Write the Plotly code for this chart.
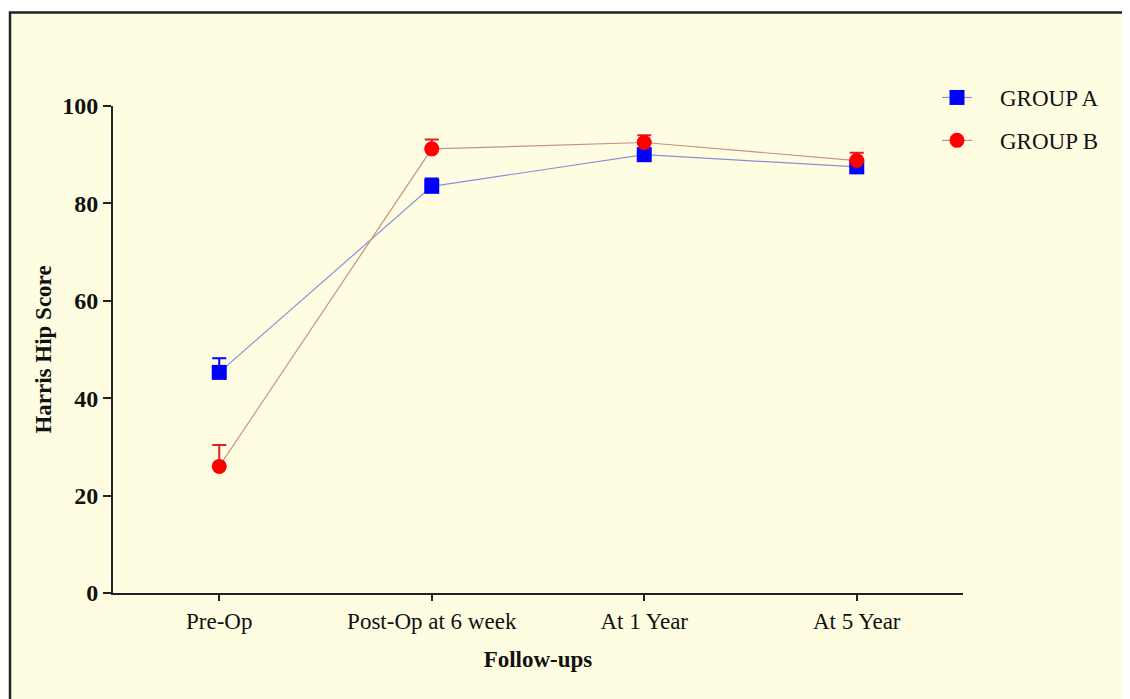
import plotly.graph_objects as go

categories = ["Pre-Op", "Post-Op at 6 week", "At 1 Year", "At 5 Year"]
group_a = [45.3, 83.5, 90.0, 87.5]
group_a_err = [2.9, 1.6, 1.3, 1.0]
group_b = [26.0, 91.2, 92.5, 88.8]
group_b_err = [4.4, 1.9, 1.5, 1.6]
y_ticks = [0, 20, 40, 60, 80, 100]

W, H = 1130, 699
OFF = 8  # page body margin
L, T = 113 - OFF, 106 - OFF
PW, PH = 850, 487
R = W - L - PW
B = H - T - PH
BG = "#FEFDE1"
FONT = "Liberation Serif, Times New Roman, serif"
FS = 23

fig = go.Figure()
fig.add_trace(go.Scatter(
    x=categories, y=group_a, name="\u2002\u2002GROUP A", mode="lines+markers",
    line=dict(color="#8E8ED6", width=1.2),
    marker=dict(symbol="square", size=15, color="#0000FF"),
    error_y=dict(type="data", array=group_a_err, arrayminus=[0]*4, symmetric=False,
                 color="#0000FF", thickness=2, width=7),
    legendgroup="a",
))
fig.add_trace(go.Scatter(
    x=categories, y=group_b, name="\u2002\u2002GROUP B", mode="lines+markers",
    line=dict(color="#C99080", width=1.2),
    marker=dict(symbol="circle", size=15, color="#FF0000"),
    error_y=dict(type="data", array=group_b_err, arrayminus=[0]*4, symmetric=False,
                 color="#E02020", thickness=2, width=7),
    legendgroup="b",
))

def px_x(p):
    return (p - OFF - L) / PW
def px_y(p):
    return (H - B - (p - OFF)) / PH

fig.add_shape(type="rect", xref="paper", yref="paper",
              x0=px_x(10), x1=px_x(1150), y0=px_y(12.5), y1=px_y(720),
              fillcolor=BG, line=dict(color="#222222", width=2.5), layer="below")

fig.update_layout(
    width=W, height=H,
    margin=dict(l=L, r=R, t=T, b=B),
    paper_bgcolor="white", plot_bgcolor=BG,
    font=dict(family=FONT, size=FS, color="#111111"),
    showlegend=True,
    legend=dict(x=px_x(937), y=px_y(76), xanchor="left", yanchor="top",
                bgcolor="rgba(0,0,0,0)", font=dict(family=FONT, size=FS, color="#111111"),
                tracegroupgap=10),
    xaxis=dict(
        type="category", range=[-0.5, 3.5], showgrid=False, zeroline=False,
        showline=True, linecolor="#222222", linewidth=2,
        ticks="outside", ticklen=6, tickwidth=2, tickcolor="#222222",
        tickfont=dict(family=FONT, size=FS, color="#111111"),
        title=dict(text="<b>Follow-ups</b>", font=dict(family=FONT, size=FS, color="#111111"), standoff=18),
    ),
    yaxis=dict(
        range=[0, 100], tickvals=y_ticks, ticktext=[f"<b>{v}</b>" for v in y_ticks],
        showgrid=False, zeroline=False,
        showline=True, linecolor="#222222", linewidth=2,
        ticks="outside", ticklen=8, tickwidth=2, tickcolor="#222222",
        tickfont=dict(family=FONT, size=24, color="#111111"),
        title=dict(text="<b>Harris Hip Score</b>", font=dict(family=FONT, size=FS, color="#111111"), standoff=4),
    ),
)

fig.write_html("out.html")
